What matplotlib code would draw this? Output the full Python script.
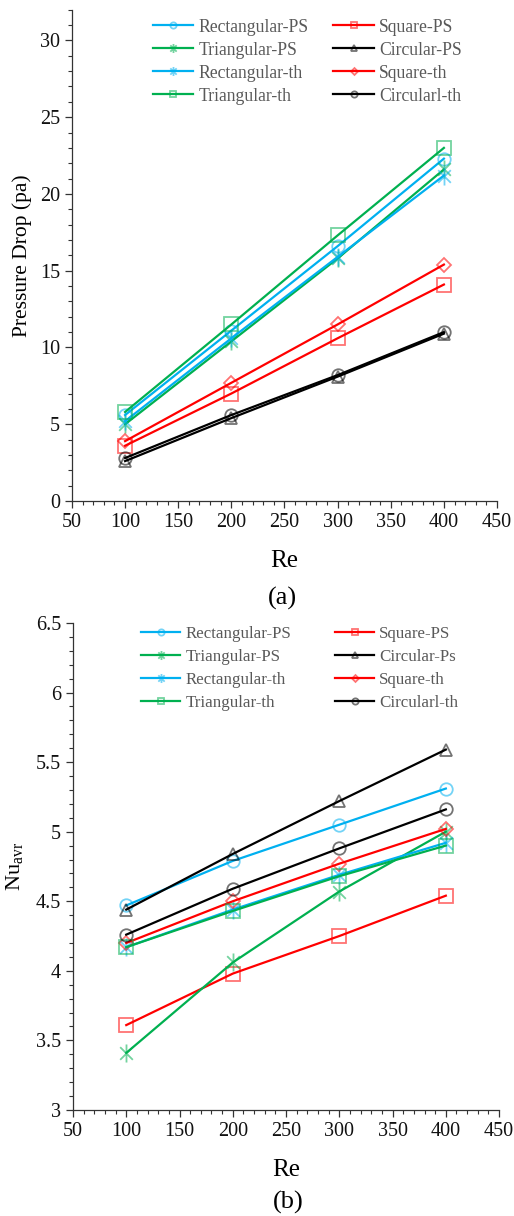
import matplotlib
matplotlib.use("Agg")
import matplotlib.pyplot as plt
from matplotlib.path import Path
from matplotlib.colors import to_rgba

plt.rcParams['font.family'] = ['Liberation Serif', 'DejaVu Serif']
plt.rcParams['mathtext.fontset'] = 'custom'
plt.rcParams['mathtext.rm'] = 'Liberation Serif'
plt.rcParams['mathtext.it'] = 'Liberation Serif:italic'

re_vals = [100, 200, 300, 400]

labels_a = ['Rectangular-PS', 'Square-PS', 'Triangular-PS', 'Circular-PS',
            'Rectangular-th', 'Square-th', 'Triangular-th', 'Circularl-th']
labels_b = ['Rectangular-PS', 'Square-PS', 'Triangular-PS', 'Circular-Ps',
            'Rectangular-th', 'Square-th', 'Triangular-th', 'Circularl-th']

# pressure drop (pa)
dp_rect_ps = [5.6, 11.1, 16.6, 22.3]
dp_square_ps = [3.6, 7.0, 10.6, 14.1]
dp_tri_ps = [5.0, 10.4, 15.8, 21.6]
dp_circ_ps = [2.6, 5.4, 8.1, 10.9]
dp_rect_th = [5.2, 10.6, 15.9, 21.2]
dp_square_th = [3.9, 7.7, 11.5, 15.4]
dp_tri_th = [5.8, 11.5, 17.3, 23.0]
dp_circ_th = [2.8, 5.6, 8.2, 11.0]

# average Nusselt number
nu_rect_ps = [4.47, 4.79, 5.05, 5.31]
nu_square_ps = [3.61, 3.98, 4.25, 4.54]
nu_tri_ps = [3.41, 4.06, 4.57, 5.00]
nu_circ_ps = [4.44, 4.84, 5.22, 5.59]
nu_rect_th = [4.17, 4.44, 4.69, 4.92]
nu_square_th = [4.20, 4.50, 4.77, 5.02]
nu_tri_th = [4.17, 4.43, 4.68, 4.90]
nu_circ_th = [4.26, 4.59, 4.88, 5.16]

blue = '#00B0F0'
red = '#FF0000'
green = '#00B050'
black = '#000000'

# Excel "star" marker: an x with a vertical bar
star = Path([(0, -1), (0, 1), (-0.7, -0.7), (0.7, 0.7), (-0.7, 0.7), (0.7, -0.7)],
            [Path.MOVETO, Path.LINETO, Path.MOVETO, Path.LINETO, Path.MOVETO, Path.LINETO])

colors = [blue, red, green, black, blue, red, green, black]
markers = ['o', 's', star, '^', star, 'D', 's', 'o']
msizes = [9, 10, 13, 9, 13, 7, 10, 9]

fig = plt.figure(figsize=(5.14, 12.16), dpi=100)
ax1 = fig.add_axes([0.140, 0.588, 0.827, 0.404])
ax2 = fig.add_axes([0.142, 0.0872, 0.829, 0.4005])


def draw(ax, series, labels):
    handles = []
    for y, lab, c, m, ms in zip(series, labels, colors, markers, msizes):
        h, = ax.plot(re_vals, y, color=c, lw=1.6, marker=m, ms=ms,
                     mfc='none', mec=to_rgba(c, 0.55), mew=1.3, label=lab)
        handles.append(h)
    for s in ['top', 'right']:
        ax.spines[s].set_visible(False)
    for s in ['left', 'bottom']:
        ax.spines[s].set_linewidth(0.9)
        ax.spines[s].set_color('#333333')
    ax.set_xlim(50, 450)
    ax.set_xticks(range(50, 451, 50))
    ax.set_xticks(range(50, 451, 10), minor=True)
    ax.tick_params(which='major', direction='out', length=5, width=0.9,
                   labelsize=14.5, colors='#333333', labelcolor='#111111')
    ax.tick_params(which='minor', direction='out', length=3, width=0.8, colors='#333333')
    ax.set_xlabel('Re', fontsize=18, labelpad=13)
    # legend is filled row-wise in the original
    order = [0, 2, 4, 6, 1, 3, 5, 7]
    return [handles[i] for i in order], [labels[i] for i in order]


series_a = [dp_rect_ps, dp_square_ps, dp_tri_ps, dp_circ_ps,
            dp_rect_th, dp_square_th, dp_tri_th, dp_circ_th]
h, l = draw(ax1, series_a, labels_a)
ax1.set_ylim(0, 32)
ax1.set_yticks(range(0, 31, 5))
ax1.set_yticks(range(0, 33, 1), minor=True)
ax1.set_ylabel('Pressure Drop (pa)', fontsize=15.5, labelpad=6)
leg = ax1.legend(h, l, ncol=2, loc='upper left', bbox_to_anchor=(0.19, 0.982),
                 frameon=False, fontsize=12.7, markerscale=0.5, handlelength=2.3,
                 handletextpad=0.3, columnspacing=1.4, labelspacing=0.34,
                 borderpad=0, borderaxespad=0)
for t in leg.get_texts():
    t.set_color('#595959')

series_b = [nu_rect_ps, nu_square_ps, nu_tri_ps, nu_circ_ps,
            nu_rect_th, nu_square_th, nu_tri_th, nu_circ_th]
h, l = draw(ax2, series_b, labels_b)
ax2.set_ylim(3, 6.5)
ax2.set_yticks([3, 3.5, 4, 4.5, 5, 5.5, 6, 6.5])
ax2.set_yticklabels(['3', '3.5', '4', '4.5', '5', '5.5', '6', '6.5'])
ax2.set_yticks([3 + 0.1 * i for i in range(36)], minor=True)
ax2.set_ylabel('Nu$_{\\mathrm{avr}}$', fontsize=16, labelpad=8)
leg = ax2.legend(h, l, ncol=2, loc='upper left', bbox_to_anchor=(0.16, 0.994),
                 frameon=False, fontsize=12.2, markerscale=0.5, handlelength=2.3,
                 handletextpad=0.3, columnspacing=2.6, labelspacing=0.42,
                 borderpad=0, borderaxespad=0)
for t in leg.get_texts():
    t.set_color('#595959')

fig.text(0.55, 1 - 598 / 1216, '(a)', fontsize=19, ha='center', va='center')
fig.text(0.56, 1 - 1202 / 1216, '(b)', fontsize=19, ha='center', va='center')

fig.savefig('out.png', dpi=100)
